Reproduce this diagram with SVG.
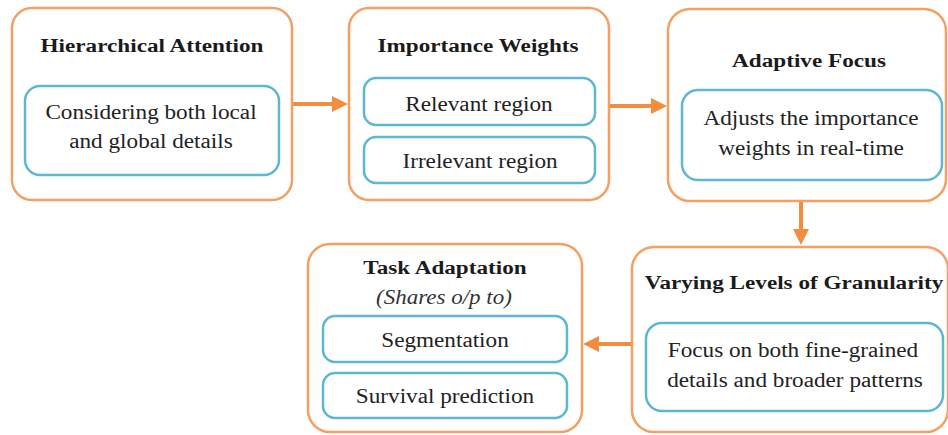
<svg xmlns="http://www.w3.org/2000/svg" width="948" height="435" viewBox="0 0 948 435">
<defs>
<style>
.outer{fill:#ffffff;stroke:#F4A062;stroke-width:2.5}
.inner{fill:#ffffff;stroke:#5DB7D2;stroke-width:2.5}
.title{font-family:'Liberation Serif','Times New Roman',serif;font-weight:bold;font-size:19px;fill:#1b1b1b;text-anchor:middle}
.body{font-family:'Liberation Serif','Times New Roman',serif;font-size:20px;fill:#222222;text-anchor:middle}
.ital{font-family:'Liberation Serif','Times New Roman',serif;font-style:italic;font-size:20px;fill:#333333;text-anchor:middle}
.conn{stroke:#F28C3E;stroke-width:4;fill:none}
</style>
<marker id="ah" markerUnits="userSpaceOnUse" markerWidth="18" markerHeight="18" refX="2" refY="8" orient="auto">
<path d="M0,0 L16,8 L0,16 Z" fill="#F28C3E"/>
</marker>
</defs>
<rect width="948" height="435" fill="#ffffff"/>

<g id="connectors">
<line class="conn" x1="293" y1="104" x2="334" y2="104" marker-end="url(#ah)"/>
<line class="conn" x1="610" y1="106" x2="653" y2="106" marker-end="url(#ah)"/>
<line class="conn" x1="801" y1="202" x2="801" y2="231" marker-end="url(#ah)"/>
<line class="conn" x1="631" y1="344" x2="597" y2="344" marker-end="url(#ah)"/>
</g>

<g id="hierarchical-attention">
<rect class="outer" x="12" y="8" width="280" height="192" rx="20"/>
<text class="title" transform="translate(152,52) scale(1.22,1)">Hierarchical Attention</text>
<rect class="inner" x="25" y="86" width="254" height="89" rx="15"/>
<text class="body" transform="translate(151,119) scale(1.16,1)">Considering both local</text>
<text class="body" transform="translate(151,148) scale(1.16,1)">and global details</text>
</g>

<g id="importance-weights">
<rect class="outer" x="349" y="8" width="260" height="192" rx="20"/>
<text class="title" transform="translate(478,52) scale(1.22,1)">Importance Weights</text>
<g id="relevant-region">
<rect class="inner" x="364" y="78" width="231" height="47" rx="12"/>
<text class="body" transform="translate(479,111) scale(1.16,1)">Relevant region</text>
</g>
<g id="irrelevant-region">
<rect class="inner" x="364" y="137" width="231" height="46" rx="12"/>
<text class="body" transform="translate(480,168) scale(1.16,1)">Irrelevant region</text>
</g>
</g>

<g id="adaptive-focus">
<rect class="outer" x="668" y="9" width="278" height="192" rx="22"/>
<text class="title" transform="translate(809,67) scale(1.22,1)">Adaptive Focus</text>
<rect class="inner" x="682" y="90" width="260" height="90" rx="16"/>
<text class="body" transform="translate(811,125) scale(1.16,1)">Adjusts the importance</text>
<text class="body" transform="translate(811,155) scale(1.16,1)">weights in real-time</text>
</g>

<g id="varying-levels-of-granularity">
<rect class="outer" x="632" y="247" width="316" height="185" rx="22"/>
<text class="title" transform="translate(794,289) scale(1.22,1)">Varying Levels of Granularity</text>
<rect class="inner" x="646" y="323" width="297" height="88" rx="16"/>
<text class="body" transform="translate(793,357) scale(1.16,1)">Focus on both fine-grained</text>
<text class="body" transform="translate(795,387) scale(1.16,1)">details and broader patterns</text>
</g>

<g id="task-adaptation">
<rect class="outer" x="308" y="244" width="274" height="188" rx="22"/>
<text class="title" transform="translate(445,274) scale(1.22,1)">Task Adaptation</text>
<text class="ital" transform="translate(444,304) scale(1.15,1)">(Shares o/p to)</text>
<g id="segmentation">
<rect class="inner" x="323" y="316" width="244" height="46" rx="12"/>
<text class="body" transform="translate(445,347) scale(1.16,1)">Segmentation</text>
</g>
<g id="survival-prediction">
<rect class="inner" x="323" y="373" width="244" height="45" rx="12"/>
<text class="body" transform="translate(445,403) scale(1.16,1)">Survival prediction</text>
</g>
</g>
</svg>
